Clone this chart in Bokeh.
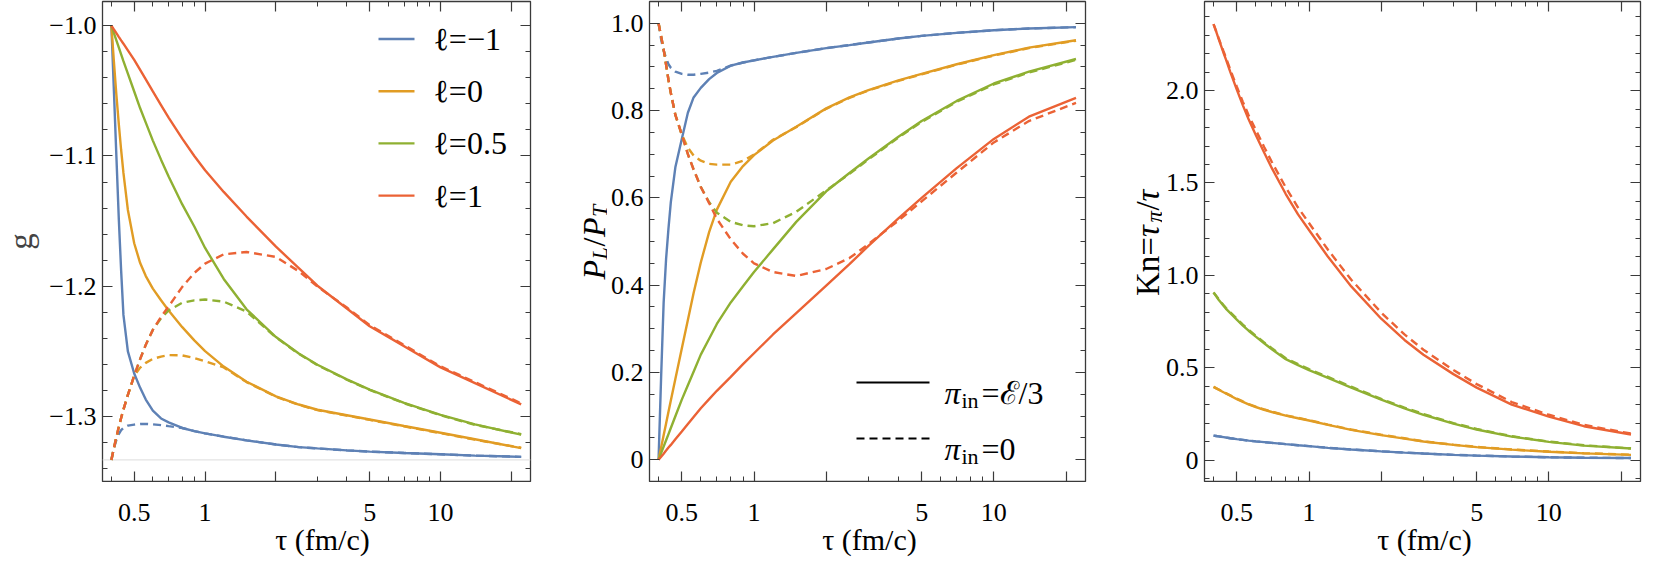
import numpy as np
from bokeh.plotting import figure
from bokeh.layouts import row, column
from bokeh.models import (FixedTicker, CustomJSTickFormatter, LogAxis, LinearAxis,
                          Label, Arrow, Span, Range1d)
from bokeh.embed import file_html
from bokeh.resources import INLINE

# ---------------- data ----------------
TAU = [0.4, 0.41, 0.42, 0.43, 0.44, 0.45, 0.47, 0.5, 0.53, 0.56, 0.6, 0.65, 0.7, 0.8, 0.9,
       1.0, 1.2, 1.5, 2.0, 2.5, 3.0, 4.0, 5.0, 7.0, 10.0, 14.0, 22.0]

ELL_LABELS = ["ℓ=−1", "ℓ=0", "ℓ=0.5", "ℓ=1"]
COLORS = ["#5E81B5", "#E19C24", "#8FB032", "#EB6235"]

# panel 1 : g
G_SOLID_LM1 = [-1.0, -1.05, -1.100, -1.148, -1.188, -1.222, -1.250, -1.267, -1.278, -1.287, -1.2955, -1.3015, -1.3045, -1.3088, -1.3112,
               -1.313, -1.3155, -1.3183, -1.3215, -1.3235, -1.3245, -1.326, -1.327, -1.328, -1.329, -1.330, -1.331]
G_SOLID_L0 = [-1.0, -1.0278, -1.053, -1.0754, -1.0954, -1.113, -1.1414, -1.167, -1.1822, -1.1922, -1.2018, -1.2108, -1.2186, -1.2314, -1.2416,
              -1.2498, -1.2617, -1.2733, -1.2845, -1.2908, -1.2948, -1.299, -1.3023, -1.3073, -1.3125, -1.3175, -1.3243]
G_SOLID_L05 = [-1.0, -1.0057, -1.0113, -1.0167, -1.022, -1.0272, -1.0368, -1.0505, -1.0634, -1.0744, -1.0882, -1.1028, -1.1157, -1.1372, -1.1541,
               -1.1706, -1.1944, -1.2177, -1.239, -1.2516, -1.2603, -1.2715, -1.2793, -1.2895, -1.2988, -1.3061, -1.3139]
G_SOLID_L1 = [-1.0, -1.0029, -1.0057, -1.0085, -1.0112, -1.0138, -1.0189, -1.0262, -1.0339, -1.0412, -1.0504, -1.0609, -1.0705, -1.0867, -1.1,
              -1.111, -1.1276, -1.1465, -1.1696, -1.1861, -1.1996, -1.2171, -1.2307, -1.246, -1.2623, -1.2744, -1.2907]

G_DASH_LM1 = [-1.3333, -1.3245, -1.318, -1.3135, -1.3105, -1.3088, -1.307, -1.3062, -1.3057, -1.3057, -1.306, -1.3066, -1.3074, -1.3088, -1.3112,
              -1.313, -1.3155, -1.3183, -1.3215, -1.3235, -1.3245, -1.326, -1.327, -1.328, -1.329, -1.330, -1.331]
G_DASH_L0 = [-1.3333, -1.3242, -1.3158, -1.3081, -1.3011, -1.2947, -1.2834, -1.2686, -1.2625, -1.2588, -1.2558, -1.254, -1.2529, -1.2531, -1.2551,
             -1.2577, -1.2623, -1.2736, -1.2848, -1.2911, -1.2951, -1.2993, -1.3026, -1.3076, -1.3128, -1.3178, -1.3240]
G_DASH_L05 = [-1.3333, -1.3242, -1.3158, -1.3081, -1.3011, -1.2947, -1.2834, -1.2686, -1.2559, -1.2449, -1.2335, -1.2245, -1.2185, -1.2127, -1.2108,
              -1.2102, -1.2118, -1.2195, -1.2393, -1.2519, -1.2606, -1.2718, -1.2796, -1.2898, -1.2991, -1.3064, -1.3136]
G_DASH_L1 = [-1.3333, -1.3242, -1.3158, -1.3081, -1.3011, -1.2947, -1.2834, -1.2686, -1.2559, -1.2449, -1.2335, -1.2235, -1.2155, -1.2005, -1.1898,
             -1.1826, -1.1755, -1.1737, -1.1775, -1.1885, -1.2003, -1.2163, -1.2299, -1.2452, -1.2615, -1.2736, -1.2899]
G_ASYMPTOTE = -4.0 / 3.0

# panel 2 : P_L / P_T
PL_SOLID_LM1 = [0.0, 0.19, 0.36, 0.46, 0.53, 0.59, 0.67, 0.735, 0.795, 0.83, 0.852, 0.872, 0.886, 0.903, 0.910,
                0.915, 0.923, 0.932, 0.943, 0.950, 0.956, 0.965, 0.971, 0.978, 0.984, 0.988, 0.991]
PL_SOLID_L0 = [0.0, 0.028, 0.056, 0.083, 0.11, 0.136, 0.185, 0.255, 0.32, 0.382, 0.452, 0.5216, 0.5731, 0.6369, 0.6727,
               0.6979, 0.7312, 0.763, 0.805, 0.830, 0.847, 0.869, 0.884, 0.906, 0.927, 0.944, 0.961]
PL_SOLID_L05 = [0.0, 0.0152, 0.0301, 0.0446, 0.0588, 0.0727, 0.0996, 0.1378, 0.1707, 0.2018, 0.2408, 0.2773, 0.3111, 0.3604, 0.3973,
                0.43, 0.482, 0.545, 0.615, 0.657, 0.69, 0.74, 0.776, 0.822, 0.862, 0.889, 0.918]
PL_SOLID_L1 = [0.0, 0.007, 0.014, 0.021, 0.028, 0.034, 0.047, 0.065, 0.082, 0.098, 0.118, 0.139, 0.158, 0.19, 0.219,
               0.244, 0.287, 0.336, 0.399, 0.448, 0.49, 0.553, 0.6, 0.668, 0.735, 0.786, 0.829]

PL_DASH_LM1 = [1.0, 0.963, 0.937, 0.92, 0.906, 0.898, 0.889, 0.884, 0.882, 0.882, 0.884, 0.887, 0.891, 0.903, 0.910,
               0.915, 0.923, 0.932, 0.943, 0.950, 0.956, 0.965, 0.971, 0.978, 0.984, 0.988, 0.991]
PL_DASH_L0 = [1.0, 0.97, 0.94, 0.905, 0.87, 0.84, 0.79, 0.745, 0.715, 0.697, 0.685, 0.678, 0.676, 0.676, 0.685,
              0.699, 0.733, 0.762, 0.804, 0.829, 0.846, 0.868, 0.883, 0.905, 0.926, 0.943, 0.96]
PL_DASH_L05 = [1.0, 0.97, 0.94, 0.905, 0.87, 0.84, 0.79, 0.745, 0.70, 0.665, 0.625, 0.59, 0.566, 0.545, 0.537,
               0.535, 0.542, 0.568, 0.617, 0.655, 0.688, 0.738, 0.774, 0.82, 0.86, 0.887, 0.916]
PL_DASH_L1 = [1.0, 0.97, 0.94, 0.905, 0.87, 0.84, 0.79, 0.745, 0.70, 0.665, 0.625, 0.588, 0.552, 0.505, 0.472,
              0.45, 0.43, 0.421, 0.437, 0.462, 0.494, 0.548, 0.592, 0.658, 0.727, 0.776, 0.8175]

# panel 3 : Kn
KN_SOLID_LM1 = [0.132, 0.13, 0.128, 0.126, 0.124, 0.122, 0.118, 0.113, 0.109, 0.105, 0.101, 0.097, 0.093, 0.086, 0.080,
                0.075, 0.066, 0.057, 0.047, 0.040, 0.035, 0.028, 0.024, 0.019, 0.015, 0.0125, 0.0106]
KN_SOLID_L0 = [0.396, 0.388, 0.381, 0.374, 0.367, 0.361, 0.348, 0.33, 0.315, 0.301, 0.287, 0.272, 0.26, 0.24, 0.226,
               0.214, 0.19, 0.163, 0.135, 0.116, 0.1, 0.082, 0.07, 0.056, 0.045, 0.036, 0.028]
KN_SOLID_L05 = [0.907, 0.887, 0.868, 0.851, 0.835, 0.82, 0.795, 0.76, 0.728, 0.70, 0.668, 0.632, 0.60, 0.546, 0.514,
                0.487, 0.445, 0.392, 0.327, 0.28, 0.245, 0.197, 0.165, 0.127, 0.098, 0.078, 0.062]
KN_SOLID_L1 = [2.36, 2.32, 2.28, 2.242, 2.205, 2.17, 2.10, 2.005, 1.92, 1.845, 1.76, 1.665, 1.58, 1.44, 1.33,
               1.245, 1.10, 0.94, 0.765, 0.65, 0.57, 0.465, 0.392, 0.30, 0.235, 0.183, 0.138]

KN_DASH_LM1 = [0.132, 0.13, 0.128, 0.126, 0.124, 0.122, 0.118, 0.113, 0.109, 0.105, 0.101, 0.097, 0.093, 0.086, 0.080,
               0.075, 0.066, 0.057, 0.047, 0.040, 0.035, 0.028, 0.024, 0.019, 0.015, 0.0125, 0.0106]
KN_DASH_L0 = [0.396, 0.389, 0.382, 0.375, 0.368, 0.362, 0.35, 0.332, 0.317, 0.303, 0.289, 0.274, 0.262, 0.242, 0.228,
              0.216, 0.192, 0.165, 0.137, 0.118, 0.101, 0.083, 0.071, 0.057, 0.046, 0.037, 0.029]
KN_DASH_L05 = [0.907, 0.889, 0.871, 0.855, 0.839, 0.824, 0.80, 0.765, 0.733, 0.705, 0.673, 0.637, 0.605, 0.551, 0.519,
               0.492, 0.450, 0.397, 0.331, 0.284, 0.249, 0.200, 0.168, 0.129, 0.100, 0.080, 0.063]
KN_DASH_L1 = [2.36, 2.322, 2.284, 2.248, 2.213, 2.18, 2.112, 2.021, 1.939, 1.867, 1.787, 1.695, 1.613, 1.476, 1.367,
              1.283, 1.138, 0.976, 0.798, 0.68, 0.597, 0.487, 0.411, 0.314, 0.245, 0.19, 0.143]

# ticks
X_TICKS = [0.5, 1, 2, 5, 10, 20]
X_TICK_LABELS = ["0.5", "1", "", "5", "10", ""]
X_MINOR = [0.4, 0.6, 0.7, 0.8, 0.9, 3, 4, 6, 7, 8, 9]

G_TICKS = [-1.3, -1.2, -1.1, -1.0]
G_TICK_LABELS = ["−1.3", "−1.2", "−1.1", "−1.0"]
PL_TICKS = [0.0, 0.2, 0.4, 0.6, 0.8, 1.0]
PL_TICK_LABELS = ["0", "0.2", "0.4", "0.6", "0.8", "1.0"]
KN_TICKS = [0.0, 0.5, 1.0, 1.5, 2.0]
KN_TICK_LABELS = ["0", "0.5", "1.0", "1.5", "2.0"]

X_LABEL = "τ (fm/c)"
G_LABEL = "g"

# ---------------- styling ----------------
FONT = "Liberation Serif, DejaVu Serif, serif"
FRAME = "#3a3a3a"
TICK_SIZE = "26px"
PANEL_H = 482
STRIP_H = 75
H = PANEL_H + STRIP_H
FRAME_W = 440
X_RANGE = (0.3667, 24.1)


def label_formatter(tick_values, tick_labels):
    return CustomJSTickFormatter(args=dict(tv=tick_values, tl=tick_labels), code="""
        let k = -1;
        for (let j = 0; j < tv.length; j++) {
            if (Math.abs(tv[j] - tick) < 1e-6 * Math.max(1, Math.abs(tv[j]))) { k = j; break; }
        }
        return k >= 0 ? tl[k] : '';
    """)


def style_axis(ax, show_labels):
    ax.major_tick_in = 10
    ax.major_tick_out = 0
    ax.minor_tick_in = 5
    ax.minor_tick_out = 0
    ax.major_tick_line_color = FRAME
    ax.minor_tick_line_color = FRAME
    ax.major_tick_line_width = 1.2
    ax.minor_tick_line_width = 1.0
    ax.axis_line_color = None
    if show_labels:
        ax.major_label_text_font = FONT
        ax.major_label_text_font_size = TICK_SIZE
        ax.major_label_text_color = "black"
    else:
        ax.major_label_text_font_size = "0px"
        ax.major_label_standoff = 0


def slabel(p, x, y, text, size, style="normal", angle=0.0, align="left",
           baseline="alphabetic", x_units="screen", y_units="screen"):
    p.add_layout(Label(x=x, y=y, x_units=x_units, y_units=y_units, text=text,
                       angle=angle, text_font=FONT, text_font_size=size,
                       text_font_style=style, text_align=align, text_baseline=baseline,
                       text_color="black"))


def make_panel(left, right, y_range, y_ticks, y_labels, y_minor):
    width = left + FRAME_W + right
    p = figure(width=width, height=PANEL_H, x_axis_type="log",
               x_range=Range1d(*X_RANGE), y_range=Range1d(*y_range),
               output_backend="svg", toolbar_location=None,
               min_border_left=left, min_border_right=right,
               min_border_top=1, min_border_bottom=1)
    p.xgrid.grid_line_color = None
    p.ygrid.grid_line_color = None
    p.outline_line_color = FRAME
    p.outline_line_width = 1.3
    p.background_fill_color = "white"
    p.border_fill_color = "white"

    xt = FixedTicker(ticks=X_TICKS, minor_ticks=X_MINOR)
    yt = FixedTicker(ticks=y_ticks, minor_ticks=y_minor)
    blank = CustomJSTickFormatter(code="return '';")

    bx = p.below[0]
    bx.ticker = xt
    bx.formatter = blank
    style_axis(bx, False)

    ly = p.left[0]
    ly.ticker = yt
    ly.formatter = label_formatter(y_ticks, y_labels)
    style_axis(ly, True)
    ly.major_label_standoff = 6

    top = LogAxis(ticker=xt, formatter=blank)
    style_axis(top, False)
    p.add_layout(top, "above")
    rt = LinearAxis(ticker=yt, formatter=blank)
    style_axis(rt, False)
    p.add_layout(rt, "right")
    return p


def x_strip(p, left, right):
    """x tick labels and x title, placed through the panel's own log x scale"""
    b = figure(width=left + FRAME_W + right, height=STRIP_H, x_axis_type="log",
               x_range=p.x_range, y_range=Range1d(0, STRIP_H),
               x_axis_location=None, y_axis_location=None, output_backend="svg",
               toolbar_location=None, min_border_left=left, min_border_right=right,
               min_border_top=0, min_border_bottom=0)
    b.outline_line_color = None
    b.xgrid.grid_line_color = None
    b.ygrid.grid_line_color = None
    for t, lab in zip(X_TICKS, X_TICK_LABELS):
        if lab:
            slabel(b, t, 45, lab, TICK_SIZE, align="center", x_units="data", y_units="data")
    slabel(b, FRAME_W / 2, 18, X_LABEL, "30px", align="center", x_units="screen", y_units="data")
    return b


def label_strip(width):
    s = figure(width=width, height=H, x_range=Range1d(0, width), y_range=Range1d(0, H),
               x_axis_location=None, y_axis_location=None, output_backend="svg",
               toolbar_location=None, min_border=0)
    s.min_border_left = s.min_border_right = s.min_border_top = s.min_border_bottom = 0
    s.outline_line_color = None
    s.xgrid.grid_line_color = None
    s.ygrid.grid_line_color = None
    return s


def add_curves(p, solids, dashes):
    for ys, c in zip(solids, COLORS):
        p.line(TAU, ys, line_color=c, line_width=2.4)
    for ys, c in zip(dashes, COLORS):
        p.line(TAU, ys, line_color=c, line_width=2.4, line_dash="8 5")


ang = np.pi / 2

# ---------------- panel 1 ----------------
L1, R1 = 90, 12
p1 = make_panel(L1, R1, (-1.3499, -0.9814), G_TICKS, G_TICK_LABELS,
                [float(v) for v in np.round(np.arange(-1.34, -0.979, 0.02), 3)])
ly1 = p1.left[0]
ly1.axis_label = G_LABEL
ly1.axis_label_text_font = FONT
ly1.axis_label_text_font_size = "33px"
ly1.axis_label_text_font_style = "normal"
ly1.axis_label_standoff = 7
p1.add_layout(Span(location=G_ASYMPTOTE, dimension="width", line_color="#e3e3e3",
                   line_width=1.2, level="underlay"))
add_curves(p1, [G_SOLID_LM1, G_SOLID_L0, G_SOLID_L05, G_SOLID_L1],
           [G_DASH_LM1, G_DASH_L0, G_DASH_L05, G_DASH_L1])
for i, (lab, c) in enumerate(zip(ELL_LABELS, COLORS)):
    yy = 442.5 - 52.2 * i
    p1.add_layout(Arrow(end=None, x_start=276, y_start=yy, x_end=312, y_end=yy,
                        start_units="screen", end_units="screen",
                        line_color=c, line_width=2.4))
    slabel(p1, 331, yy, lab, "32px", baseline="middle")
b1 = x_strip(p1, L1, R1)

# ---------------- panel 2 ----------------
s2 = label_strip(65)
slabel(s2, 51, 278, "P", "32px", "italic", ang, x_units="data", y_units="data")
slabel(s2, 57, 298, "L", "22px", "italic", ang, x_units="data", y_units="data")
slabel(s2, 51, 311, "/", "32px", "normal", ang, x_units="data", y_units="data")
slabel(s2, 51, 320.5, "P", "32px", "italic", ang, x_units="data", y_units="data")
slabel(s2, 57, 340.5, "T", "22px", "italic", ang, x_units="data", y_units="data")

L2, R2 = 38, 11
p2 = make_panel(L2, R2, (-0.0498, 1.0498), PL_TICKS, PL_TICK_LABELS,
                [float(v) for v in np.round(np.arange(-0.05, 1.051, 0.05), 3)])
add_curves(p2, [PL_SOLID_LM1, PL_SOLID_L0, PL_SOLID_L05, PL_SOLID_L1],
           [PL_DASH_LM1, PL_DASH_L0, PL_DASH_L05, PL_DASH_L1])
for yy, dash, tail in [(99, "solid", "=ℰ/3"), (43, "8 5", "=0")]:
    p2.add_layout(Arrow(end=None, x_start=207, y_start=yy, x_end=280, y_end=yy,
                        start_units="screen", end_units="screen",
                        line_color="black", line_width=2.2, line_dash=dash))
    base = yy - 10.5
    slabel(p2, 295, base, "π", "32px", "italic")
    slabel(p2, 312, base - 7, "in", "22px")
    slabel(p2, 332, base, tail, "32px")
b2 = x_strip(p2, L2, R2)

# ---------------- panel 3 ----------------
s3 = label_strip(66)
slabel(s3, 51.5, 261.5, "Kn=", "33px", "normal", ang, x_units="data", y_units="data")
slabel(s3, 51.5, 320.5, "τ", "33px", "italic", ang, x_units="data", y_units="data")
slabel(s3, 57.5, 335, "π", "23px", "italic", ang, x_units="data", y_units="data")
slabel(s3, 51.5, 347, "/", "33px", "normal", ang, x_units="data", y_units="data")
slabel(s3, 51.5, 356, "τ", "33px", "italic", ang, x_units="data", y_units="data")

L3, R3 = 38, 3
p3 = make_panel(L3, R3, (-0.1163, 2.4823), KN_TICKS, KN_TICK_LABELS,
                [float(v) for v in np.round(np.arange(-0.1, 2.45, 0.1), 3)])
add_curves(p3, [KN_SOLID_LM1, KN_SOLID_L0, KN_SOLID_L05, KN_SOLID_L1],
           [KN_DASH_LM1, KN_DASH_L0, KN_DASH_L05, KN_DASH_L1])
b3 = x_strip(p3, L3, R3)

layout = row(column(p1, b1), s2, column(p2, b2), s3, column(p3, b3))
open("out.html", "w").write(file_html(layout, INLINE))
